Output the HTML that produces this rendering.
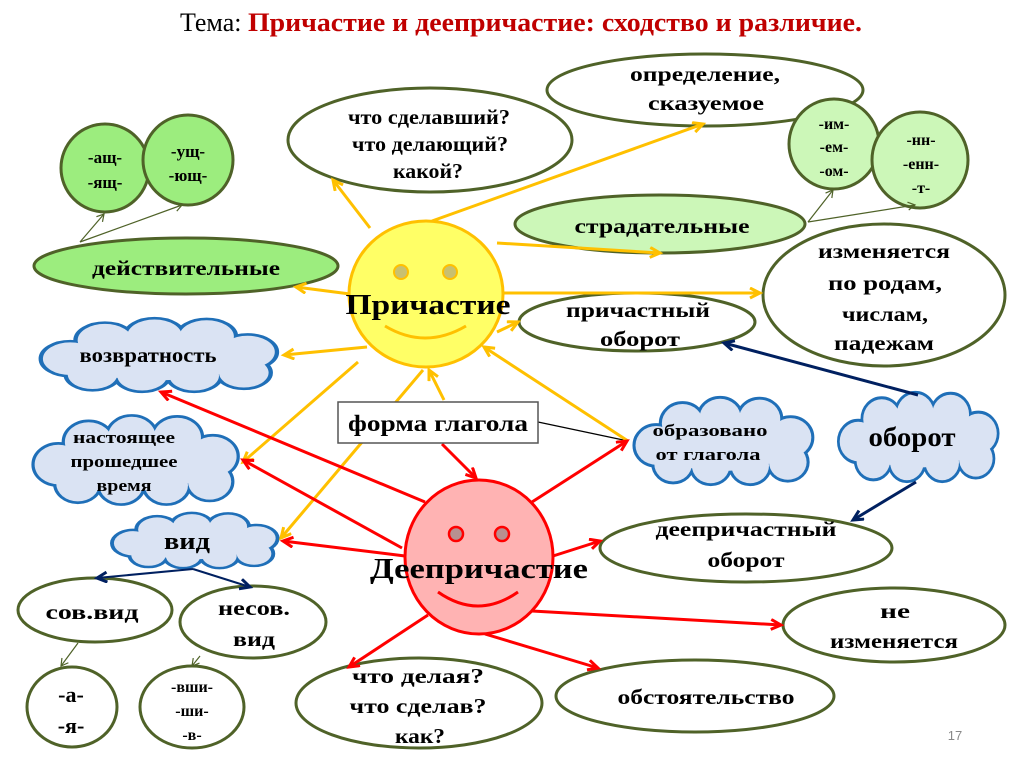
<!DOCTYPE html>
<html><head><meta charset="utf-8"><style>
html,body{margin:0;padding:0;background:#fff;}
svg{display:block;}
text{font-family:"Liberation Serif",serif;font-weight:bold;fill:#000;text-anchor:middle;}
</style></head><body>
<svg width="1024" height="767" viewBox="0 0 1024 767" xmlns="http://www.w3.org/2000/svg">
<defs>
<marker id="ay" markerUnits="userSpaceOnUse" markerWidth="16" markerHeight="16" refX="11" refY="6" orient="auto"><path d="M1,1 L11,6 L1,11" fill="none" stroke="#ffc000" stroke-width="3"/></marker>
<marker id="ar" markerUnits="userSpaceOnUse" markerWidth="16" markerHeight="16" refX="11" refY="6" orient="auto"><path d="M1,1 L11,6 L1,11" fill="none" stroke="#ff0000" stroke-width="3"/></marker>
<marker id="an" markerUnits="userSpaceOnUse" markerWidth="16" markerHeight="16" refX="11" refY="6" orient="auto"><path d="M1,1 L11,6 L1,11" fill="none" stroke="#002060" stroke-width="3"/></marker>
<marker id="ag" markerUnits="userSpaceOnUse" markerWidth="12" markerHeight="12" refX="8" refY="5" orient="auto"><path d="M1,1 L8,5 L1,9" fill="none" stroke="#4f6228" stroke-width="1.2"/></marker>
</defs>

<text x="180" y="31" style="font-size:26px;font-weight:normal;text-anchor:start">Тема: <tspan fill="#c00000" style="font-weight:bold" textLength="614" lengthAdjust="spacingAndGlyphs">Причастие и деепричастие: сходство и различие.</tspan></text>

<g stroke="#4f6228" stroke-width="3" fill="#fff">
<ellipse cx="430" cy="140" rx="142" ry="52"/>
<ellipse cx="705" cy="90" rx="158" ry="36"/>
<circle cx="105" cy="168" r="44" fill="#9ced7e"/>
<circle cx="188" cy="160" r="45" fill="#9ced7e"/>
<ellipse cx="186" cy="266" rx="152" ry="28" fill="#9ced7e"/>
<circle cx="834" cy="144" r="45" fill="#ccf7b8"/>
<circle cx="920" cy="160" r="48" fill="#ccf7b8"/>
<ellipse cx="660" cy="224" rx="145" ry="29" fill="#ccf7b8"/>
<ellipse cx="884" cy="295" rx="121" ry="71"/>
<ellipse cx="637" cy="322" rx="118" ry="29"/>
<ellipse cx="746" cy="548" rx="146" ry="34"/>
<ellipse cx="894" cy="625" rx="111" ry="37"/>
<ellipse cx="695" cy="696" rx="139" ry="36"/>
<ellipse cx="419" cy="703" rx="123" ry="45"/>
<ellipse cx="95" cy="610" rx="77" ry="32"/>
<ellipse cx="253" cy="622" rx="73" ry="36"/>
<ellipse cx="72" cy="707" rx="45" ry="40"/>
<ellipse cx="192" cy="707" rx="52" ry="41"/>
</g>

<g transform="translate(33,318) scale(1.24,0.74)">
 <g fill="#1f6fb8" stroke="#1f6fb8" stroke-width="7">
  <circle cx="30" cy="55" r="22"/><circle cx="58" cy="30" r="22"/><circle cx="98" cy="24" r="22"/><circle cx="140" cy="25" r="22"/><circle cx="173" cy="46" r="22"/><circle cx="170" cy="74" r="20"/><circle cx="130" cy="78" r="20"/><circle cx="88" cy="78" r="20"/><circle cx="48" cy="76" r="20"/>
 </g>
 <g fill="#dae3f3">
  <circle cx="30" cy="55" r="22"/><circle cx="58" cy="30" r="22"/><circle cx="98" cy="24" r="22"/><circle cx="140" cy="25" r="22"/><circle cx="173" cy="46" r="22"/><circle cx="170" cy="74" r="20"/><circle cx="130" cy="78" r="20"/><circle cx="88" cy="78" r="20"/><circle cx="48" cy="76" r="20"/><ellipse cx="100" cy="52" rx="75" ry="32"/>
 </g>
</g>
<g transform="translate(26,415) scale(1.08,0.9)">
 <g fill="#1f6fb8" stroke="#1f6fb8" stroke-width="6">
  <circle cx="30" cy="55" r="22"/><circle cx="58" cy="30" r="22"/><circle cx="98" cy="24" r="22"/><circle cx="140" cy="25" r="22"/><circle cx="173" cy="46" r="22"/><circle cx="170" cy="74" r="20"/><circle cx="130" cy="78" r="20"/><circle cx="88" cy="78" r="20"/><circle cx="48" cy="76" r="20"/>
 </g>
 <g fill="#dae3f3">
  <circle cx="30" cy="55" r="22"/><circle cx="58" cy="30" r="22"/><circle cx="98" cy="24" r="22"/><circle cx="140" cy="25" r="22"/><circle cx="173" cy="46" r="22"/><circle cx="170" cy="74" r="20"/><circle cx="130" cy="78" r="20"/><circle cx="88" cy="78" r="20"/><circle cx="48" cy="76" r="20"/><ellipse cx="100" cy="52" rx="75" ry="32"/>
 </g>
</g>
<g transform="translate(107,513) scale(0.865,0.55)">
 <g fill="#1f6fb8" stroke="#1f6fb8" stroke-width="9">
  <circle cx="30" cy="55" r="22"/><circle cx="58" cy="30" r="22"/><circle cx="98" cy="24" r="22"/><circle cx="140" cy="25" r="22"/><circle cx="173" cy="46" r="22"/><circle cx="170" cy="74" r="20"/><circle cx="130" cy="78" r="20"/><circle cx="88" cy="78" r="20"/><circle cx="48" cy="76" r="20"/>
 </g>
 <g fill="#dae3f3">
  <circle cx="30" cy="55" r="22"/><circle cx="58" cy="30" r="22"/><circle cx="98" cy="24" r="22"/><circle cx="140" cy="25" r="22"/><circle cx="173" cy="46" r="22"/><circle cx="170" cy="74" r="20"/><circle cx="130" cy="78" r="20"/><circle cx="88" cy="78" r="20"/><circle cx="48" cy="76" r="20"/><ellipse cx="100" cy="52" rx="75" ry="32"/>
 </g>
</g>
<g transform="translate(628,397) scale(0.94,0.88)">
 <g fill="#1f6fb8" stroke="#1f6fb8" stroke-width="6.5">
  <circle cx="30" cy="55" r="22"/><circle cx="58" cy="30" r="22"/><circle cx="98" cy="24" r="22"/><circle cx="140" cy="25" r="22"/><circle cx="173" cy="46" r="22"/><circle cx="170" cy="74" r="20"/><circle cx="130" cy="78" r="20"/><circle cx="88" cy="78" r="20"/><circle cx="48" cy="76" r="20"/>
 </g>
 <g fill="#dae3f3">
  <circle cx="30" cy="55" r="22"/><circle cx="58" cy="30" r="22"/><circle cx="98" cy="24" r="22"/><circle cx="140" cy="25" r="22"/><circle cx="173" cy="46" r="22"/><circle cx="170" cy="74" r="20"/><circle cx="130" cy="78" r="20"/><circle cx="88" cy="78" r="20"/><circle cx="48" cy="76" r="20"/><ellipse cx="100" cy="52" rx="75" ry="32"/>
 </g>
</g>
<g transform="translate(833,392) scale(0.84,0.9)">
 <g fill="#1f6fb8" stroke="#1f6fb8" stroke-width="6.5">
  <circle cx="30" cy="55" r="22"/><circle cx="58" cy="30" r="22"/><circle cx="98" cy="24" r="22"/><circle cx="140" cy="25" r="22"/><circle cx="173" cy="46" r="22"/><circle cx="170" cy="74" r="20"/><circle cx="130" cy="78" r="20"/><circle cx="88" cy="78" r="20"/><circle cx="48" cy="76" r="20"/>
 </g>
 <g fill="#dae3f3">
  <circle cx="30" cy="55" r="22"/><circle cx="58" cy="30" r="22"/><circle cx="98" cy="24" r="22"/><circle cx="140" cy="25" r="22"/><circle cx="173" cy="46" r="22"/><circle cx="170" cy="74" r="20"/><circle cx="130" cy="78" r="20"/><circle cx="88" cy="78" r="20"/><circle cx="48" cy="76" r="20"/><ellipse cx="100" cy="52" rx="75" ry="32"/>
 </g>
</g>

<g stroke="#4f6228" stroke-width="1.2" marker-end="url(#ag)">
<line x1="80" y1="242" x2="104" y2="214"/>
<line x1="80" y1="242" x2="182" y2="205"/>
<line x1="808" y1="222" x2="833" y2="190"/>
<line x1="808" y1="222" x2="915" y2="205"/>
<line x1="78" y1="643" x2="61" y2="666"/>
<line x1="200" y1="656" x2="192" y2="666"/>
</g>
<line x1="538" y1="422" x2="628" y2="441" stroke="#000" stroke-width="1.2"/>

<ellipse cx="426" cy="294" rx="77" ry="73" fill="#ffff66" stroke="#ffc000" stroke-width="3"/>
<circle cx="401" cy="272" r="7" fill="#c8c070" stroke="#ffc000" stroke-width="2"/>
<circle cx="450" cy="272" r="7" fill="#c8c070" stroke="#ffc000" stroke-width="2"/>
<path d="M385,326 Q425,350 466,326" fill="none" stroke="#ffc000" stroke-width="3"/>
<ellipse cx="479" cy="557" rx="74" ry="77" fill="#ffb3b3" stroke="#ff0000" stroke-width="3"/>
<circle cx="456" cy="534" r="7" fill="#b89090" stroke="#ff0000" stroke-width="2.5"/>
<circle cx="502" cy="534" r="7" fill="#b89090" stroke="#ff0000" stroke-width="2.5"/>
<path d="M438,592 Q478,620 518,592" fill="none" stroke="#ff0000" stroke-width="3"/>

<g stroke="#ffc000" stroke-width="3" marker-end="url(#ay)">
<line x1="370" y1="228" x2="333" y2="180"/>
<line x1="432" y1="221" x2="703" y2="124"/>
<line x1="497" y1="243" x2="660" y2="253"/>
<line x1="503" y1="293" x2="760" y2="293"/>
<line x1="350" y1="294" x2="296" y2="287"/>
<line x1="367" y1="347" x2="284" y2="355"/>
<line x1="358" y1="362" x2="243" y2="462"/>
<line x1="423" y1="370" x2="281" y2="538"/>
<line x1="444" y1="400" x2="429" y2="370"/>
<line x1="628" y1="441" x2="484" y2="347"/>
<line x1="497" y1="332" x2="518" y2="322"/>
</g>

<g stroke="#ff0000" stroke-width="3" marker-end="url(#ar)">
<line x1="442" y1="444" x2="476" y2="478"/>
<line x1="425" y1="502" x2="161" y2="392"/>
<line x1="402" y1="548" x2="243" y2="460"/>
<line x1="405" y1="556" x2="283" y2="541"/>
<line x1="532" y1="502" x2="627" y2="441"/>
<line x1="553" y1="556" x2="600" y2="541"/>
<line x1="532" y1="611" x2="781" y2="625"/>
<line x1="485" y1="634" x2="598" y2="668"/>
<line x1="428" y1="615" x2="349" y2="667"/>
</g>

<g stroke="#002060" stroke-width="3" marker-end="url(#an)">
<line x1="918" y1="395" x2="724" y2="343"/>
<line x1="916" y1="482" x2="853" y2="520"/>
</g>
<g stroke="#002060" stroke-width="2" marker-end="url(#an)">
<line x1="193" y1="569" x2="97" y2="578"/>
<line x1="193" y1="569" x2="250" y2="587"/>
</g>

<rect x="338" y="402" width="200" height="41" fill="#fff" stroke="#555" stroke-width="1.5"/>
<text x="438" y="431" style="font-size:23px" textLength="180" lengthAdjust="spacingAndGlyphs">форма глагола</text>

<g style="font-size:21px">
<text x="429" y="124" textLength="162" lengthAdjust="spacingAndGlyphs">что сделавший?</text>
<text x="430" y="151" textLength="156" lengthAdjust="spacingAndGlyphs">что делающий?</text>
<text x="428" y="178" textLength="70" lengthAdjust="spacingAndGlyphs">какой?</text>
<text x="705" y="81" textLength="150" lengthAdjust="spacingAndGlyphs">определение,</text>
<text x="706" y="110" textLength="116" lengthAdjust="spacingAndGlyphs">сказуемое</text>
<text x="105" y="163" style="font-size:17px">-ащ-</text>
<text x="105" y="188" style="font-size:17px">-ящ-</text>
<text x="188" y="157" style="font-size:17px">-ущ-</text>
<text x="188" y="181" style="font-size:17px">-ющ-</text>
<text x="186" y="275" textLength="188" lengthAdjust="spacingAndGlyphs">действительные</text>
<text x="834" y="129" style="font-size:16px">-им-</text>
<text x="834" y="152" style="font-size:16px">-ем-</text>
<text x="834" y="176" style="font-size:16px">-ом-</text>
<text x="921" y="145" style="font-size:16px">-нн-</text>
<text x="921" y="169" style="font-size:16px">-енн-</text>
<text x="921" y="193" style="font-size:16px">-т-</text>
<text x="662" y="233" textLength="175" lengthAdjust="spacingAndGlyphs">страдательные</text>
<text x="884" y="258" textLength="132" lengthAdjust="spacingAndGlyphs">изменяется</text>
<text x="885" y="290" textLength="114" lengthAdjust="spacingAndGlyphs">по родам,</text>
<text x="885" y="321" textLength="86" lengthAdjust="spacingAndGlyphs">числам,</text>
<text x="884" y="350" textLength="100" lengthAdjust="spacingAndGlyphs">падежам</text>
<text x="638" y="317" textLength="144" lengthAdjust="spacingAndGlyphs">причастный</text>
<text x="640" y="346" textLength="80" lengthAdjust="spacingAndGlyphs">оборот</text>
<text x="148" y="362" textLength="137" lengthAdjust="spacingAndGlyphs">возвратность</text>
<text x="124" y="443" style="font-size:17px" textLength="102" lengthAdjust="spacingAndGlyphs">настоящее</text>
<text x="124" y="467" style="font-size:17px" textLength="107" lengthAdjust="spacingAndGlyphs">прошедшее</text>
<text x="124" y="491" style="font-size:17px" textLength="55" lengthAdjust="spacingAndGlyphs">время</text>
<text x="187" y="549" style="font-size:24px" textLength="46" lengthAdjust="spacingAndGlyphs">вид</text>
<text x="710" y="436" style="font-size:17px" textLength="115" lengthAdjust="spacingAndGlyphs">образовано</text>
<text x="708" y="460" style="font-size:17px" textLength="105" lengthAdjust="spacingAndGlyphs">от глагола</text>
<text x="912" y="446" style="font-size:27px" textLength="87" lengthAdjust="spacingAndGlyphs">оборот</text>
<text x="746" y="536" textLength="181" lengthAdjust="spacingAndGlyphs">деепричастный</text>
<text x="746" y="567" textLength="77" lengthAdjust="spacingAndGlyphs">оборот</text>
<text x="895" y="618" textLength="30" lengthAdjust="spacingAndGlyphs">не</text>
<text x="894" y="648" textLength="128" lengthAdjust="spacingAndGlyphs">изменяется</text>
<text x="706" y="704" textLength="177" lengthAdjust="spacingAndGlyphs">обстоятельство</text>
<text x="418" y="683" textLength="132" lengthAdjust="spacingAndGlyphs">что делая?</text>
<text x="418" y="713" textLength="137" lengthAdjust="spacingAndGlyphs">что сделав?</text>
<text x="420" y="743" textLength="50" lengthAdjust="spacingAndGlyphs">как?</text>
<text x="92" y="619" textLength="93" lengthAdjust="spacingAndGlyphs">сов.вид</text>
<text x="254" y="615" textLength="72" lengthAdjust="spacingAndGlyphs">несов.</text>
<text x="254" y="646" textLength="42" lengthAdjust="spacingAndGlyphs">вид</text>
<text x="71" y="702" style="font-size:22px">-а-</text>
<text x="71" y="733" style="font-size:22px">-я-</text>
<text x="192" y="692" style="font-size:16px">-вши-</text>
<text x="192" y="716" style="font-size:16px">-ши-</text>
<text x="192" y="740" style="font-size:16px">-в-</text>
</g>
<text x="428" y="314" style="font-size:28px" textLength="165" lengthAdjust="spacingAndGlyphs">Причастие</text>
<text x="479" y="578" style="font-size:28px" textLength="218" lengthAdjust="spacingAndGlyphs">Деепричастие</text>
<text x="955" y="740" style="font-size:13px;font-weight:normal;fill:#888;font-family:'Liberation Sans',sans-serif">17</text>
</svg>
</body></html>
